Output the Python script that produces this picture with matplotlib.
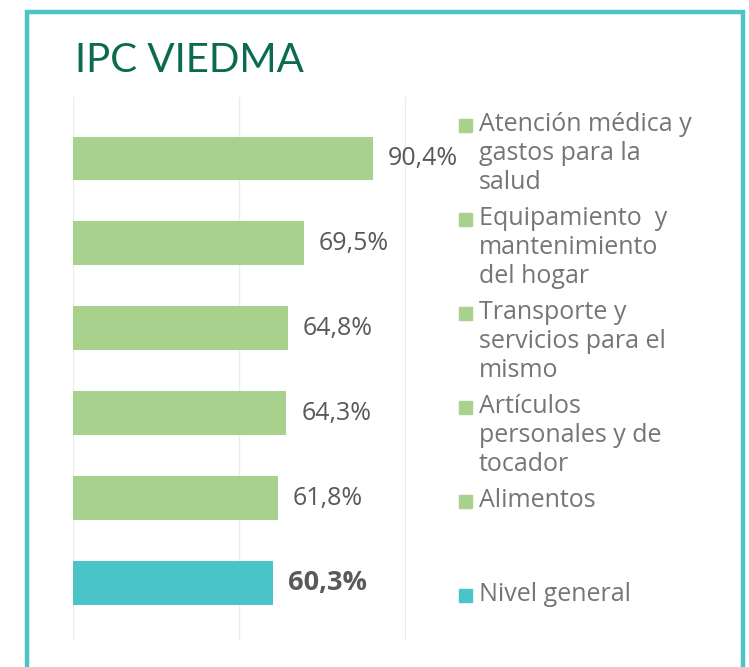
import matplotlib.pyplot as plt
from matplotlib.patches import Rectangle

categories = ['Atención médica y\ngastos para la\nsalud',
              'Equipamiento  y\nmantenimiento\ndel hogar',
              'Transporte y\nservicios para el\nmismo',
              'Artículos\npersonales y de\ntocador',
              'Alimentos',
              'Nivel general']
values = [90.4, 69.5, 64.8, 64.3, 61.8, 60.3]
labels = ['90,4%', '69,5%', '64,8%', '64,3%', '61,8%', '60,3%']
colors = ['#a9d18e'] * 5 + ['#4bc4c8']

W, H = 749, 667
fig = plt.figure(figsize=(W / 100, H / 100), dpi=100)
plt.rcParams['font.family'] = ['Open Sans', 'DejaVu Sans']

# axes in pixel coords: x 73..405, y 97..640
ax = fig.add_axes([73 / W, 1 - 640 / H, (406 - 73) / W, (640 - 97) / H])
pos = list(range(len(values)))
ax.barh(pos, values, height=0.51, color=colors, zorder=2)
ax.set_xlim(0, 100.3)
ax.set_ylim(5.67, -0.72)
ax.set_xticks([0, 50, 100])
ax.grid(axis='x', color='#ececec', lw=1, zorder=0)
ax.tick_params(left=False, bottom=False, labelleft=False, labelbottom=False)
for s in ax.spines.values():
    s.set_visible(False)

for i, (v, lab) in enumerate(zip(values, labels)):
    last = i == len(values) - 1
    ax.text(v + 4.5, i, lab, va='center', ha='left',
            fontsize=19.5 if last else 18, color='#595959',
            fontweight='bold' if last else 'normal')

# legend (baseline of first line, pixels), one text per line
leg_base = [131, 225, 319, 413, 507, 601]
for cat, c, y in zip(categories, colors, leg_base):
    fig.patches.append(Rectangle((459 / W, 1 - (y + 1) / H), 13 / W, 13 / H,
                                 transform=fig.transFigure, color=c))
    for k, line in enumerate(cat.split('\n')):
        fig.text(479 / W, 1 - (y + 29 * k) / H, line, va='baseline',
                 ha='left', fontsize=18, color='#757575')

fig.text(75 / W, 1 - 60 / H, 'IPC VIEDMA', va='center', ha='left',
         fontsize=29, color='#0b6b50', family='Lato')

# frame
fig.patches.append(Rectangle((27 / W, -0.05), (743 - 27) / W, 1.05 - 12 / H,
                             transform=fig.transFigure, fill=False,
                             edgecolor='#4bc4c8', lw=3.2))

fig.savefig('out.png', dpi=100)
